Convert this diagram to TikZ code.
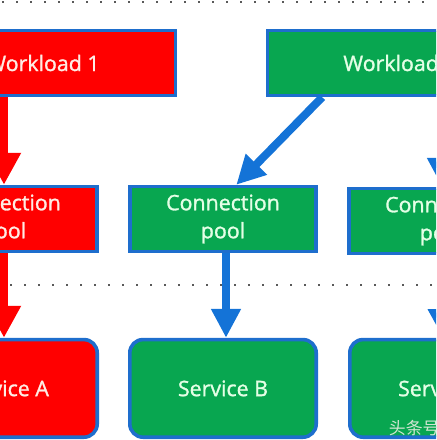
\documentclass[tikz,border=0pt]{standalone}
\usepackage{fontspec}
\setmainfont{Open Sans}
\newfontfamily\demigras{Open Sans}[FakeBold=1.3]
\newfontfamily\cjkfont{Noto Sans CJK SC}
\usetikzlibrary{arrows.meta,calc}
\definecolor{bordbleu}{RGB}{30,110,205}
\definecolor{flecbleu}{RGB}{20,115,215}
\definecolor{vert}{RGB}{8,166,80}
\definecolor{rouge}{RGB}{255,0,0}
\definecolor{texvert}{RGB}{228,255,230}
\definecolor{texrouge}{RGB}{255,236,228}
\tikzset{
  boite/.style={draw=bordbleu, line width=0.09cm, inner sep=0pt,
    minimum width=4.66cm, minimum height=1.62cm, align=center,
    font=\demigras\fontsize{15.2}{19.9}\selectfont},
  travail/.style={boite, minimum width=6.62cm},
  service/.style={boite, minimum height=2.44cm, rounded corners=0.33cm},
  enrouge/.style={fill=rouge, text=texrouge},
  envert/.style={fill=vert, text=texvert},
  flrouge/.style={draw=rouge, line width=0.2cm, -{Triangle[length=0.8cm,width=0.8cm]}},
  flbleu/.style={draw=flecbleu, line width=0.2cm, -{Triangle[length=0.72cm,width=0.7cm]}},
  pointille/.style={draw=black!65, line width=0.05cm, dash pattern=on 0.05cm off 0.3cm}
}
\begin{document}
\begin{tikzpicture}
  \useasboundingbox (0,0) rectangle (10.9,11);
  \clip (0,0) rectangle (10.9,11);
  % Lignes de séparation
  \draw [pointille] (0.05,10.96) -- (10.9,10.96);
  \draw [pointille] (0.25,3.88) -- (10.9,3.88);

  % Charges
  \node [travail, enrouge] (wl1) at (1.075,9.425) {Workload 1};
  \node [travail, envert] (wl2) at (10.0,9.425) {Workload 2};

  % Pools de connexions
  \node [boite, enrouge] (cp1) at (0.1,5.525) {Connection\\pool};
  \node [boite, envert] (cp2) at (5.575,5.525) {Connection\\pool};
  \node [boite, envert] (cp3) at (11.05,5.475) {Connection\\pool};

  % Services
  \node [service, enrouge] (sa) at (0.1,1.29) {Service A};
  \node [service, envert] (sb) at (5.575,1.29) {Service B};
  \node [service, envert] (sc) at (11.075,1.29) {Service C};

  % Flèches
  \draw [flrouge] (cp1.north |- wl1.south) -- (cp1.north);
  \draw [flrouge] (cp1.south) -- (sa.north);
  \draw [flbleu] ($(wl2.south west)!0.21!(wl2.south east)$) -- ($(cp2.north west)!0.57!(cp2.north east)$);
  \draw [flbleu] ([xshift=0.075cm]cp2.south) -- ([xshift=0.075cm]sb.north);
  \draw [flbleu] (cp3.north |- wl2.south) -- (cp3.north);
  \draw [flbleu] (cp3.south) -- (sc.north);

  \node [anchor=west, text=texvert!80!gray, font=\cjkfont\fontsize{12}{12}\selectfont] (wm) at (9.6,0.3) {头条号};
\end{tikzpicture}
\end{document}
